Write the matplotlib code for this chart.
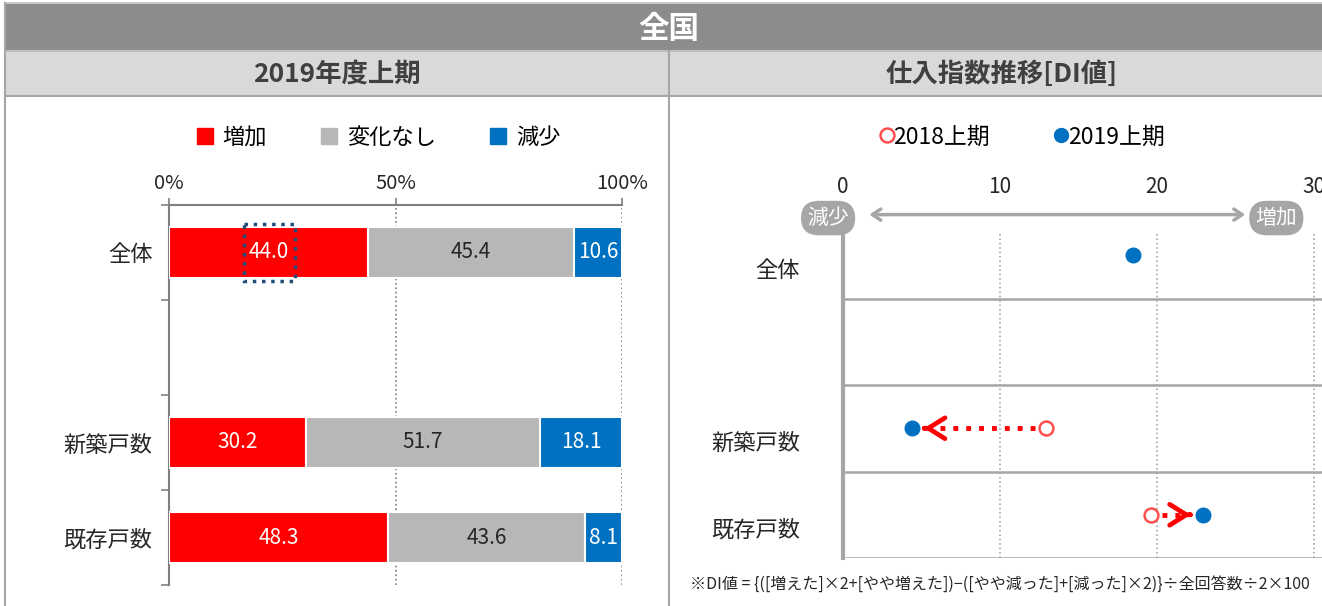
import matplotlib
matplotlib.use("Agg")
import matplotlib.pyplot as plt
from matplotlib.patches import Rectangle
from matplotlib.lines import Line2D
import matplotlib.transforms as mtransforms

plt.rcParams['font.family'] = ['Noto Sans CJK JP', 'DejaVu Sans']

# data
bar_cats = ['全体', '', '新築戸数', '既存戸数']
inc = [44.0, None, 30.2, 48.3]
same = [45.4, None, 51.7, 43.6]
dec = [10.6, None, 18.1, 8.1]
seg_names = ['増加', '変化なし', '減少']
seg_colors = ['#ff0000', '#b7b7b7', '#0070c0']
seg_text = ['white', '#262626', 'white']

di_cats = ['全体', '', '新築戸数', '既存戸数']
di_2018 = [None, None, 12.9, 19.6]
di_2019 = [18.5, None, 4.4, 22.9]

W, H = 1322, 606
fig = plt.figure(figsize=(W / 100, H / 100), dpi=100)


def fx(px):
    return px / W


def fy(py):
    return 1 - py / H


def box(x0, y0, x1, y1, color):
    fig.add_artist(Rectangle((fx(x0), fy(y1)), fx(x1) - fx(x0), fy(y0) - fy(y1),
                             transform=fig.transFigure, fc=color, ec='none', zorder=0))


def line(x0, y0, x1, y1, color='#a6a6a6', lw=1.5):
    fig.add_artist(Line2D([fx(x0), fx(x1)], [fy(y0), fy(y1)], transform=fig.transFigure,
                          color=color, lw=lw, zorder=1))


# header bars
box(5, 4, W, 50, '#8c8c8c')
box(5, 52, W, 95, '#d9d9d9')
line(5, 3, W, 3, '#bfbfbf', 1.2)
line(5, 51, W, 51, '#bfbfbf', 1.5)
line(5, 96, W, 96, '#a6a6a6', 1.5)
line(5, 3, 5, H, '#a6a6a6', 1.5)
line(669, 51, 669, H, '#a6a6a6', 1.5)
fig.text(fx(669), fy(29), '全国', color='white', fontsize=22, fontweight='bold',
         ha='center', va='center')
fig.text(fx(337), fy(74), '2019年度上期', color='#404040', fontsize=19, fontweight='bold',
         ha='center', va='center')
fig.text(fx(1002), fy(74), '仕入指数推移[DI値]', color='#404040', fontsize=19, fontweight='bold',
         ha='center', va='center')

# ---------- left: stacked bars ----------
ax = fig.add_axes([fx(169), fy(585), fx(622) - fx(169), fy(205) - fy(585)])
ypos = list(range(len(bar_cats)))
for i, y in enumerate(ypos):
    if inc[i] is None:
        continue
    left = 0
    for j, v in enumerate([inc[i], same[i], dec[i]]):
        ax.barh(y, v, left=left, height=0.53, color=seg_colors[j], edgecolor='white',
                linewidth=1.5, zorder=3)
        ax.text(left + v / 2, y, f'{v:.1f}', ha='center', va='center', color=seg_text[j],
                fontsize=15, zorder=4)
        left += v
# dotted selection box around first label
ax.add_patch(Rectangle((16.5, -0.3), 11.3, 0.6, fill=False, ec='#1f4e79', ls=':', lw=2.5,
                       zorder=5))
ax.set_xlim(0, 100)
ax.set_ylim(3.5, -0.5)
ax.xaxis.tick_top()
ax.set_xticks([0, 50, 100])
ax.set_xticklabels(['0%', '50%', '100%'])
ax.tick_params(axis='x', length=5, width=1.2, color='#808080', pad=3, labelsize=14.5,
               labelcolor='#262626')
ax.set_yticks(ypos)
ax.set_yticklabels(bar_cats)
ax.set_yticks([-0.5, 0.5, 1.5, 2.5, 3.5], minor=True)
ax.tick_params(axis='y', which='major', length=0, pad=12, labelsize=16, labelcolor='#262626')
ax.tick_params(axis='y', which='minor', length=6, width=1.2, color='#808080')
for s in ['right', 'bottom']:
    ax.spines[s].set_visible(False)
for s in ['left', 'top']:
    ax.spines[s].set_color('#808080')
    ax.spines[s].set_linewidth(1.5)
for gx in [50, 100]:
    ax.axvline(gx, color='#808080', ls=':', lw=1.2, zorder=1)

handles = [Line2D([], [], marker='s', ls='none', ms=12, color=c) for c in seg_colors]
fig.legend(handles, seg_names, loc='center', bbox_to_anchor=(fx(377), fy(137)), ncol=3,
           frameon=False, fontsize=16, handletextpad=0.3, columnspacing=2.3,
           handlelength=1.0)

# ---------- right: DI dot chart ----------
ax2 = fig.add_axes([fx(843), fy(558), fx(W) - fx(843), fy(212) - fy(558)])
ax2.set_xlim(0, (W - 843) / 15.7)
ax2.set_ylim(4, 0)
rows = [i + 0.5 for i in range(len(di_cats))]
for b in [1, 2, 3, 4]:
    ax2.axhline(b, color='#a6a6a6', lw=1.8, zorder=1)
for gx in [10, 20, 30]:
    ax2.axvline(gx, ymin=0, ymax=0.94, color='#a6a6a6', ls=':', lw=1.2, zorder=1)

for i, r in enumerate(rows):
    if di_2018[i] is not None and di_2019[i] is not None:
        a, b = di_2018[i], di_2019[i]
        d = 1 if b > a else -1
        tip = b - d * 0.75
        ax2.plot([a + d * 0.7, tip - d * 0.4], [r, r], color='#ff0000', ls=':', lw=3.5,
                 zorder=3)
        ax2.annotate('', xy=(tip, r), xytext=(tip - d * 0.05, r),
                     arrowprops=dict(arrowstyle='->,head_length=1.2,head_width=0.75',
                                     color='#ff0000', lw=3.4), zorder=3)
    if di_2018[i] is not None:
        ax2.plot(di_2018[i], r, 'o', ms=10, mfc='white', mec='#ff5050', mew=1.8, zorder=4)
    if di_2019[i] is not None:
        ax2.plot(di_2019[i], r, 'o', ms=10.5, color='#0070c0', zorder=4)

ax2.xaxis.tick_top()
ax2.set_xticks([0, 10, 20, 30])
ax2.tick_params(axis='x', length=0, pad=10, labelsize=15, labelcolor='#262626')
ax2.set_yticks(rows)
ax2.set_yticklabels(di_cats)
ax2.tick_params(axis='y', length=0, pad=31, labelsize=16, labelcolor='#262626')
off = mtransforms.ScaledTranslation(0, -13 / 100, fig.dpi_scale_trans)
for lab in ax2.get_yticklabels():
    lab.set_transform(lab.get_transform() + off)
for s in ['right', 'top', 'bottom']:
    ax2.spines[s].set_visible(False)
ax2.spines['left'].set_color('#a6a6a6')
ax2.spines['left'].set_linewidth(3)
ax2.spines['left'].set_bounds(0.23, 4)

# axis direction arrow with pills
ax2.annotate('', xy=(1.5, 0.03), xytext=(25.8, 0.03),
             arrowprops=dict(arrowstyle='<->,head_length=0.6,head_width=0.4', color='#a6a6a6',
                             lw=2.5), annotation_clip=False)
pill = dict(boxstyle='round,pad=0.3,rounding_size=0.85', fc='#a6a6a6', ec='none')
ax2.text(-0.95, 0.07, '減少', color='white', fontsize=15, ha='center', va='center', bbox=pill,
         clip_on=False)
ax2.text(27.6, 0.07, '増加', color='white', fontsize=15, ha='center', va='center', bbox=pill,
         clip_on=False)

leg_handles = [Line2D([], [], marker='o', ls='none', ms=10, mfc='white', mec='#ff5050', mew=1.8),
               Line2D([], [], marker='o', ls='none', ms=10, color='#0070c0')]
fig.legend(leg_handles, ['2018上期', '2019上期'], loc='center', bbox_to_anchor=(fx(1020), fy(137)),
           ncol=2, frameon=False, fontsize=16.5, handletextpad=-0.2, columnspacing=2.6,
           handlelength=1.0)

fig.text(fx(690), fy(584), '※DI値 = {([増えた]×2+[やや増えた])−([やや減った]+[減った]×2)}÷全回答数÷2×100',
         fontsize=11.5, color='#262626', ha='left', va='center')

fig.savefig('out.png', dpi=100)
